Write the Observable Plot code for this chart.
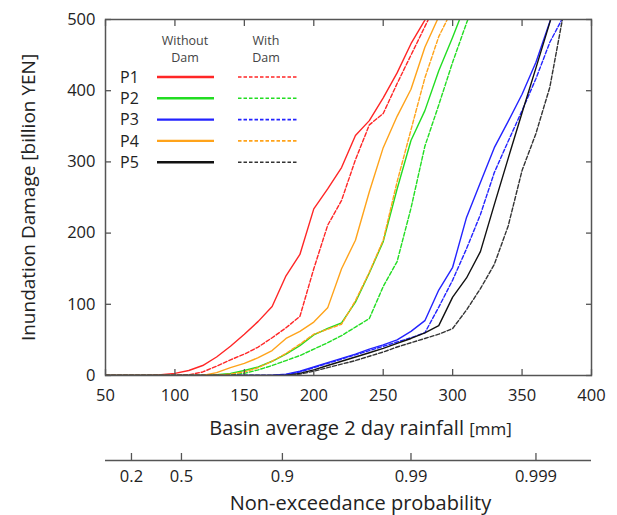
<!DOCTYPE html>
<html><head><meta charset="utf-8">
<script src="https://cdn.jsdelivr.net/npm/d3@7"></script>
<script src="https://cdn.jsdelivr.net/npm/@observablehq/plot@0.6"></script>
<style>
body{margin:0;background:#fff;}
#chart{width:617px;height:515px;}
#chart svg{display:block;}
</style></head><body><div id="chart"></div>
<script>
// ---------- data ----------
const rainfall = [50,60,70,80,90,100,110,120,130,140,150,160,170,180,190,200,210,220,230,240,250,260,270,280,290,300,310,320,330,340,350,360,370,380];
const seriesNames = ["P1","P2","P3","P4","P5"];
const colorsWithout = ["#ff2626","#22dd22","#2323ff","#ffa31a","#111111"];
const colorsWith = ["#ff2626","#22dd22","#2323ff","#ffa31a","#333333"];
// damage [billion YEN] at each rainfall value, null = off the chart
const p1Without = [0,0,0,0,1,3,7,14,26,41,58,76,97,140,170,234,262,292,337,358,390,425,466,499,540,null,null,null,null,null,null,null,null,null];
const p1With    = [0,0,0,0,0,0.5,1,5,13,22,30,40,53,67,83,150,211,246,303,352,368,410,450,490,530,null,null,null,null,null,null,null,null,null];
const p2Without = [0,0,0,0,0,0,0,0.5,1,3,7,12,20,30,42,57,66,74,103,144,188,262,330,372,428,475,525,null,null,null,null,null,null,null];
const p2With    = [0,0,0,0,0,0,0,0,0.5,1,3,8,14,21,28,37,46,56,68,80,125,160,235,322,380,440,495,545,null,null,null,null,null,null];
const p3Without = [0,0,0,0,0,0,0,0,0,0,0,0,0.5,2,6,12,18,24,30,37,43,50,62,77,120,152,222,271,320,357,395,440,497,560];
const p3With    = [0,0,0,0,0,0,0,0,0,0,0,0,0,1,5,11,17,23,29,35,41,47,53,60,96,134,178,226,285,329,372,417,468,505];
const p4Without = [0,0,0,0,0,0,0,0,4,11,17,25,35,52,62,75,95,150,190,258,320,364,402,461,504,550,null,null,null,null,null,null,null,null];
const p4With    = [0,0,0,0,0,0,0,0,0.5,2,5,11,20,31,44,58,65,72,105,145,190,272,345,418,476,515,null,null,null,null,null,null,null,null];
const p5Without = [0,0,0,0,0,0,0,0,0,0,0,0,0,0,3,8,14,20,26,32,38,45,52,60,70,110,137,174,240,305,369,432,496,560];
const p5With    = [0,0,0,0,0,0,0,0,0,0,0,0,0,0,2,6,11,16,21,27,33,40,46,52,58,66,92,122,156,210,288,340,405,510];
const withoutSeries = [p1Without,p2Without,p3Without,p4Without,p5Without];
const withSeries = [p1With,p2With,p3With,p4With,p5With];

const xTicks = [50,100,150,200,250,300,350,400];
const yTicks = [0,100,200,300,400,500];
const probLabels = ["0.2","0.5","0.9","0.99","0.999"];
const probRainfall = [68.7,104.7,177.4,270,360];

const yLabel = "Inundation Damage [billion YEN]";
const xLabel = "Basin average 2 day rainfall";
const xUnit = "[mm]";
const probTitle = "Non-exceedance probability";
const legendHeadWithout = ["Without","Dam"];
const legendHeadWith = ["With","Dam"];

// ---------- build rows ----------
function rowsOf(values, name){
  return rainfall.map((r,i)=>({rain:r, damage:values[i], series:name})).filter(d=>d.damage!==null);
}

const FONT = "'Open Sans', sans-serif";
const AX = "#555";

const lineMarks = [];
seriesNames.forEach((name,k)=>{
  lineMarks.push(Plot.line(rowsOf(withoutSeries[k],name), {x:"rain", y:"damage", stroke:colorsWithout[k], strokeWidth:1.4, clip:true}));
  lineMarks.push(Plot.line(rowsOf(withSeries[k],name), {x:"rain", y:"damage", stroke:colorsWith[k], strokeWidth:1.4, strokeDasharray:"4,2", clip:true}));
});

const main = Plot.plot({
  width:617, height:440,
  marginLeft:105, marginRight:26, marginTop:19, marginBottom:65,
  style:{fontFamily:FONT, fontSize:"16px", color:"#222", background:"#fff", overflow:"visible"},
  x:{domain:[50,400]},
  y:{domain:[0,500]},
  marks:[
    ...lineMarks,
    Plot.frame({stroke:AX, strokeWidth:1.5}),
    Plot.axisX({anchor:"bottom", ticks:xTicks, tickSize:0, tickPadding:14, label:null, fontSize:16.5}),
    Plot.axisX({anchor:"bottom", ticks:xTicks, tickSize:6, dy:-6, tickFormat:()=>"", label:null, stroke:AX, strokeWidth:1.3}),
    Plot.axisX({anchor:"top", ticks:xTicks, tickSize:6, dy:6, tickFormat:()=>"", label:null, stroke:AX, strokeWidth:1.3}),
    Plot.axisY({anchor:"left", ticks:yTicks, tickSize:0, tickPadding:10, label:null, fontSize:16.5}),
    Plot.axisY({anchor:"left", ticks:yTicks, tickSize:6, dx:6, tickFormat:()=>"", label:null, stroke:AX, strokeWidth:1.3}),
    Plot.axisY({anchor:"right", ticks:yTicks, tickSize:6, dx:-6, tickFormat:()=>"", label:null, stroke:AX, strokeWidth:1.3}),
    Plot.text([yLabel], {text:d=>d, frameAnchor:"left", textAnchor:"middle", lineAnchor:"middle", dx:-77, rotate:-90, fontSize:19, fill:"#222"}),
    Plot.text([xLabel], {text:d=>d, frameAnchor:"bottom", textAnchor:"middle", lineAnchor:"middle", dy:53, dx:12, fontSize:20, fill:"#222"})
  ]
});

// x label with smaller unit
d3.select(main).selectAll("text").filter(function(){return this.textContent===xLabel;}).each(function(){
  const t = d3.select(this);
  t.text(null);
  t.append("tspan").text(xLabel+" ");
  t.append("tspan").attr("font-size","17px").text(xUnit);
});

// legend
const lg = d3.select(main).append("g").attr("font-family",FONT);
const headY = [40.5,58];
legendHeadWithout.forEach((s,i)=>lg.append("text").attr("x",185).attr("y",headY[i]).attr("dy","0.35em").attr("text-anchor","middle").attr("font-size","12.5px").attr("fill","#444").text(s));
legendHeadWith.forEach((s,i)=>lg.append("text").attr("x",266).attr("y",headY[i]).attr("dy","0.35em").attr("text-anchor","middle").attr("font-size","12.5px").attr("fill","#444").text(s));
seriesNames.forEach((name,k)=>{
  const y = 77 + k*21.3;
  lg.append("text").attr("x",120).attr("y",y).attr("dy","0.36em").attr("text-anchor","start").attr("font-size","16px").attr("fill","#222").text(name);
  lg.append("line").attr("x1",157).attr("x2",214).attr("y1",y).attr("y2",y).attr("stroke",colorsWithout[k]).attr("stroke-width",2.4);
  lg.append("line").attr("x1",238).attr("x2",297).attr("y1",y).attr("y2",y).attr("stroke",colorsWith[k]).attr("stroke-width",1.6).attr("stroke-dasharray","3.5,2");
});

const prob = Plot.plot({
  width:617, height:75,
  marginLeft:105, marginRight:26, marginTop:13, marginBottom:55,
  style:{fontFamily:FONT, fontSize:"16px", color:"#222", background:"#fff", overflow:"visible"},
  x:{domain:[50,400]},
  y:{domain:[0,1], axis:null},
  marks:[
    Plot.ruleY([0], {stroke:AX, strokeWidth:1.5}),
    Plot.ruleX(probRainfall, {stroke:AX, strokeWidth:1.3}),
    Plot.axisX({anchor:"bottom", ticks:probRainfall, tickSize:0, tickPadding:10, label:null, fontSize:16.5, tickFormat:d=>probLabels[probRainfall.indexOf(d)]}),
    Plot.text([probTitle], {text:d=>d, frameAnchor:"bottom", textAnchor:"middle", lineAnchor:"middle", dy:43, dx:12, fontSize:20, fill:"#222"})
  ]
});

document.getElementById("chart").append(main, prob);
</script>
</body></html>
